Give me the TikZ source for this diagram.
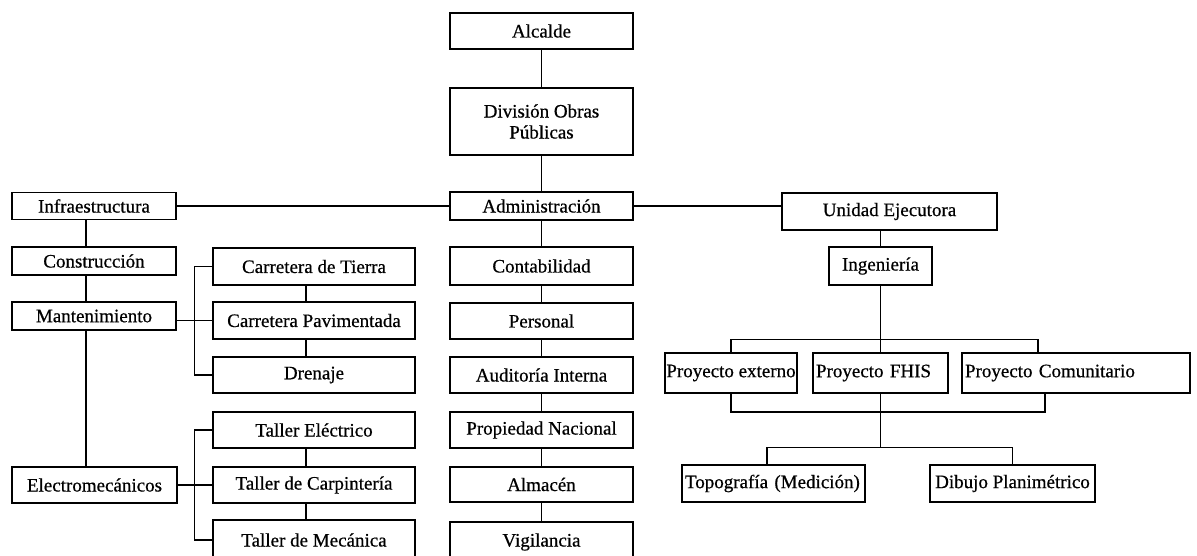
\documentclass[tikz,border=0pt]{standalone}
\usepackage{fontspec}
\setmainfont{Liberation Serif}
\newfontfamily\scanfont{Liberation Serif}[FakeBold=0.6]
\usetikzlibrary{calc}
\tikzset{
  box/.style={draw, line width=1.6pt, inner sep=0pt, align=center, font=\scanfont\fontsize{19}{21}\selectfont},
  lbox/.style={box, align=left, inner xsep=3pt},
  wh/.style 2 args={minimum width=#1pt, minimum height=#2pt},
  conn/.style={line width=1.4pt},
}
\begin{document}
\begin{tikzpicture}[x=1pt,y=-1pt]
\useasboundingbox (0,0) rectangle (1197,556);
\fill[white] (0,0) rectangle (1197,556);
\clip (0,0) rectangle (1197,556);
% central column
\node[box, wh={183}{36}] (alc) at (541.5,31) {Alcalde};
\node[box, wh={183}{67}] (div) at (541.5,121.5) {División Obras\\Públicas};
\node[box, wh={183}{28}] (adm) at (541.5,206) {Administración};
\node[box, wh={183}{38}] (cont) at (541.5,266) {Contabilidad};
\node[box, wh={183}{36}] (pers) at (541.5,321) {Personal};
\node[box, wh={183}{36}] (aud) at (541.5,375) {Auditoría Interna};
\node[box, wh={183}{36}] (prop) at (541.5,430) {Propiedad Nacional};
\node[box, wh={183}{35}] (alm) at (541.5,484.5) {Almacén};
\node[box, wh={183}{40}] (vig) at (541.5,542) {Vigilancia};
% left column
\node[box, wh={164}{27}] (infra) at (94,206) {Infraestructura};
\node[box, wh={164}{28}] (cons) at (94,261) {Construcción};
\node[box, wh={164}{28}] (mant) at (94,316) {Mantenimiento};
\node[box, wh={165}{36}] (elec) at (94.5,485) {Electromecánicos};
% second column
\node[box, wh={202}{37}] (tierra) at (314,266.5) {Carretera de Tierra};
\node[box, wh={202}{37}] (pav) at (314,320.5) {Carretera Pavimentada};
\node[box, wh={202}{36}] (dren) at (314,375) {Drenaje};
\node[box, wh={202}{36}] (telec) at (314,430) {Taller Eléctrico};
\node[box, wh={202}{36}] (tcarp) at (314,485) {Taller de Carpintería};
\node[box, wh={202}{40}] (tmec) at (314,540) {Taller de Mecánica};
% right part
\node[box, wh={215}{37}] (unidad) at (889.5,211.5) {Unidad Ejecutora};
\node[box, wh={103}{38}] (ing) at (880.5,266) {Ingeniería};
\node[box, wh={132}{40}] (pext) at (731,373) {Proyecto externo};
\node[lbox, text width=129pt, minimum height=40pt] (pfhis) at (880.5,373) {Proyecto FHIS};
\node[lbox, text width=222pt, minimum height=40pt] (pcom) at (1076,373) {Proyecto Comunitario};
\node[lbox, text width=177pt, minimum height=37pt] (topo) at (773.5,483.5) {Topografía (Medición)};
\node[box, wh={165}{37}] (dib) at (1012.5,483.5) {Dibujo Planimétrico};
% central connectors
\draw[conn] (alc.south) -- (div.north);
\draw[conn] (div.south) -- (adm.north);
\draw[conn] (adm.south) -- (cont.north);
\draw[conn] (cont.south) -- (pers.north);
\draw[conn] (pers.south) -- (aud.north);
\draw[conn] (aud.south) -- (prop.north);
\draw[conn] (prop.south) -- (alm.north);
\draw[conn] (alm.south) -- (vig.north);
\draw[conn] (infra.east) -- (adm.west);
\draw[conn] (adm.east) -- (adm.east -| unidad.west);
% left column connectors
\draw[conn] ($(infra.south)+(-8,0)$) -- ($(cons.north)+(-8,0)$);
\draw[conn] ($(cons.south)+(-8,0)$) -- ($(mant.north)+(-8,0)$);
\draw[conn] ($(mant.south)+(-8,0)$) -- ($(elec.north)+(-8.5,0)$);
% second column connectors
\draw[conn] ($(tierra.south)+(-8,0)$) -- ($(pav.north)+(-8,0)$);
\draw[conn] ($(pav.south)+(-8,0)$) -- ($(dren.north)+(-8,0)$);
\draw[conn] ($(telec.south)+(-8,0)$) -- ($(tcarp.north)+(-8,0)$);
\draw[conn] ($(tcarp.south)+(-8,0)$) -- ($(tmec.north)+(-8,0)$);
\draw[conn] (tierra.west) -- ++(-18,0) |- (dren.west);
\draw[conn] (mant.east |- pav.west) -- (pav.west);
\draw[conn] (telec.west) -- ++(-18,0) |- (tmec.west);
\draw[conn] (elec.east) -- (tcarp.west);
% right connectors
\draw[conn] (unidad.south -| ing.north) -- (ing.north);
\draw[conn] (ing.south) -- (pfhis.north);
\draw[conn] (pext.north) |- ($(pcom.north)+(-38,-13)$) -- ($(pcom.north)+(-38,0)$);
\draw[conn] (pext.south) |- ($(pcom.south)+(-31,18)$) -- ($(pcom.south)+(-31,0)$);
\draw[conn] (pfhis.south) -- ($(pfhis.south |- topo.north)+(0,-17)$);
\draw[conn] ($(topo.north)+(-6.5,0)$) -- ++(0,-17) -| (dib.north);
\end{tikzpicture}
\end{document}
